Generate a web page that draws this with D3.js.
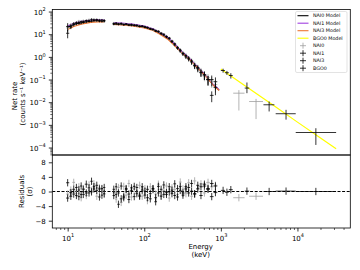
<!DOCTYPE html>
<html>
<head>
<meta charset="utf-8">
<script src="https://cdn.jsdelivr.net/npm/d3@7"></script>
<style>
body { margin: 0; background: #fff; }
svg { display: block; font-family: "DejaVu Sans", sans-serif; }
</style>
</head>
<body>
<svg id="chart" width="360" height="270"></svg>
<script>
// NaI energy bins (keV), shared by the three NaI detectors
const naiE = [10, 11, 12, 13, 14, 15, 16, 17.5, 19, 20.5, 22, 24, 26, 28, 30,
  40, 43, 46, 50, 54, 58, 63, 68, 74, 80, 87, 94, 102, 110, 120, 130, 141, 153, 166, 180,
  195, 212, 230, 250, 272, 295, 320, 350, 380, 415, 455, 500, 550, 610, 680, 760, 850];
// relative 1-sigma error of the NaI rates
const naiRelErr = [0.4, 0.2, 0.15, 0.14, 0.13, 0.12, 0.12, 0.12, 0.12, 0.12, 0.12, 0.12, 0.12, 0.12, 0.13,
  0.12, 0.1, 0.1, 0.1, 0.09, 0.09, 0.09, 0.09, 0.09, 0.09, 0.09, 0.09, 0.09, 0.09, 0.09, 0.09, 0.1, 0.1, 0.1, 0.11,
  0.12, 0.12, 0.13, 0.14, 0.15, 0.17, 0.18, 0.2, 0.22, 0.25, 0.28, 0.3, 0.35, 0.4, 0.45, 0.5, 0.55];

const nai0Rate = [19, 26, 30, 33, 38, 34, 40, 36, 44, 41, 46, 39, 43, 41, 36,
  31, 29, 30, 27, 29, 26, 28, 25, 26, 23, 24, 21, 22, 19, 18.5, 15.5, 15, 12.5, 11.5, 9,
  8.3, 6.2, 5.2, 3.5, 2.7, 1.8, 1.55, 1.05, 0.9, 0.58, 0.48, 0.3, 0.24, 0.14, 0.12, 0.085, 0.06];
const nai1Rate = [11, 23, 29, 32, 30, 36, 33, 40, 37, 45, 41, 44, 38, 42, 39,
  29, 31, 27, 30, 27, 28, 25, 27, 24, 25, 22, 23, 20, 20, 17, 16.5, 13.8, 13.5, 10.5, 10,
  7.6, 6.8, 4.7, 3.8, 2.4, 2.0, 1.35, 1.15, 0.8, 0.66, 0.42, 0.34, 0.2, 0.16, 0.1, 0.02, 0.045];
const nai3Rate = [22, 21, 26, 29, 33, 31, 36, 35, 39, 38, 42, 40, 41, 37, 40,
  28, 28, 28.5, 28, 26, 27.5, 26, 24.5, 25.5, 23.5, 22.5, 22, 21.5, 19, 17.5, 16, 14.2, 12.8, 11, 9.2,
  7.8, 6.4, 4.9, 3.4, 2.6, 1.85, 1.4, 1.0, 0.88, 0.6, 0.4, 0.3, 0.21, 0.16, 0.098, 0.1, 0.08];

const nai0Res = [-0.7, 0.4, 2.5, -0.6, 1.3, -1.7, 0.8, -1.1, 1.8, 0.3, 2.1, -1.3, 1.0, 0.6, -0.8,
  -0.4, -2.1, 1.1, -3.0, 1.4, -1.0, 2.2, -1.5, 0.7, -0.3, 1.7, -1.3, 0.8, -2.5, 1.3, 0.4, -0.7, 2.0, -1.1, 0.3,
  1.5, -1.8, 1.0, 0.6, -0.8, 2.6, 0.7, -0.6, 2.4, -1.3, 2.9, 0.8, 2.1, -0.4, 2.5, 1.3, 1.7];
const nai1Res = [-1.8, -0.3, 0.6, 1.1, -1.4, 1.5, -0.8, 2.0, -0.4, 2.8, 0.7, 1.7, -1.5, 0.8, -0.6,
  -1.1, 1.3, -3.5, 1.5, -1.7, 0.6, -2.2, 1.0, -1.4, 1.1, -1.3, 1.3, -1.0, 0.6, -2.0, 0.8, -1.7, 1.4, -1.3, 1.8,
  -0.8, 1.3, -0.6, 2.1, -1.5, 1.4, -1.0, 1.3, -0.4, 2.2, -0.7, 1.7, -1.1, 1.5, 0.6, -1.4, -0.3];
const nai3Res = [2.4, -1.3, -0.7, -1.1, 0.4, -0.8, 0.6, -0.4, 1.0, -0.1, 1.3, 0.3, 0.7, -1.0, 1.1,
  0.6, -0.8, -0.4, -2.0, -1.3, 0.8, -0.7, 0.3, 1.4, -0.6, -1.0, 0.4, 0.1, -1.7, -0.6, 0.7, -2.8, -0.4, 0.6, -0.8,
  -0.3, -0.1, 0.4, -1.1, 0.8, 0.3, -0.4, 0.7, 1.1, 0.1, -0.6, 0.7, 1.3, 2.0, 0.8, 2.2, 1.5];

// two wide NAI0 bins above 1 MeV
const nai0TailE = [1720, 2880];
const nai0TailLo = [1450, 2340];
const nai0TailHi = [2040, 3550];
const nai0TailRate = [0.025, 0.0107];
const nai0TailRateLo = [0.0043, 0.0018];
const nai0TailRateHi = [0.034, 0.014];
const nai0TailRes = [-1.7, -1.3];

// BGO0 bins
const bgoE = [1070, 1200, 1350, 2190, 4270, 7100, 17400];
const bgoLo = [1000, 1130, 1270, 2050, 3600, 5200, 9500];
const bgoHi = [1130, 1270, 1430, 2350, 5000, 9500, 32000];
const bgoRate = [0.25, 0.2, 0.15, 0.042, 0.0077, 0.0031, 0.00046];
const bgoRateLo = [0.2, 0.16, 0.11, 0.025, 0.0039, 0.0017, 0.00013];
const bgoRateHi = [0.3, 0.24, 0.19, 0.074, 0.0107, 0.0046, 0.00071];
const bgoRes = [0.3, -0.2, 0.5, 0.1, 0.0, 0.1, 0.0];

// folded models
const modelE1 = [10, 12, 15, 20, 25, 30];
const modelE2 = [40, 50, 70, 100, 130, 160, 200, 250, 300, 350, 400, 500, 600, 700, 800, 950];
const nai0Model1 = [20, 27, 33, 38, 40, 39];
const nai0Model2 = [30, 29, 26, 21, 16, 11, 7, 3.4, 1.8, 1.1, 0.74, 0.33, 0.175, 0.097, 0.057, 0.034];
const nai1Model1 = [23, 30, 37, 42, 44, 42];
const nai1Model2 = [32, 31, 28, 23, 17.5, 12, 7.5, 3.7, 1.9, 1.2, 0.78, 0.35, 0.18, 0.1, 0.06, 0.036];
const nai3Model1 = [16, 22, 28, 33, 35, 35];
const nai3Model2 = [27, 26, 23.5, 19, 14.5, 10, 6.2, 3.1, 1.65, 1.05, 0.7, 0.32, 0.17, 0.095, 0.055, 0.033];
const bgoModelE = [1000, 2000, 5000, 10000, 20000, 32000];
const bgoModel = [0.29, 0.057, 0.0068, 0.00132, 0.00026, 0.000088];

const legendItems = ["NAI0 Model", "NAI1 Model", "NAI3 Model", "BGO0 Model", "NAI0", "NAI1", "NAI3", "BGO0"];

const GRAY = "#a0a0a0", PURPLE = "#a040e0", ORANGE = "#ee7733", YELLOW = "#ffff00";

const svg = d3.select("#chart");
const L = 52.3, R = 350.3, T1 = 9.5, B1 = 155, B2 = 228;

const x = d3.scaleLog().domain([6.3, 49000]).range([L, R]);
const yTop = d3.scaleLog().domain([Math.pow(10, -4.33), Math.pow(10, 2.09)]).range([B1, T1]);
const yRes = d3.scaleLinear().domain([-10, 10]).range([B2, B1]);

svg.append("clipPath").attr("id", "clipTop")
  .append("rect").attr("x", L).attr("y", T1).attr("width", R - L).attr("height", B1 - T1);
svg.append("clipPath").attr("id", "clipRes")
  .append("rect").attr("x", L).attr("y", B1).attr("width", R - L).attr("height", B2 - B1);

// bin edges: geometric half-way to the neighbours, not across the 30-40 keV gap
function binEdges(E) {
  return E.map(function (e, i) {
    const rPrev = i > 0 ? e / E[i - 1] : Infinity;
    const rNext = i < E.length - 1 ? E[i + 1] / e : Infinity;
    const lo = rPrev < 1.25 ? rPrev : rNext;
    const hi = rNext < 1.25 ? rNext : rPrev;
    return [e / Math.sqrt(lo), e * Math.sqrt(hi)];
  });
}
const naiEdges = binEdges(naiE);

function naiPoints(rate, res) {
  return naiE.map(function (e, i) {
    return {
      e: e, lo: naiEdges[i][0], hi: naiEdges[i][1],
      r: rate[i], rlo: rate[i] * (1 - naiRelErr[i]), rhi: rate[i] * (1 + naiRelErr[i]),
      res: res[i]
    };
  });
}
function listPoints(E, lo, hi, r, rlo, rhi, res) {
  return E.map(function (e, i) {
    return { e: e, lo: lo[i], hi: hi[i], r: r[i], rlo: rlo[i], rhi: rhi[i], res: res[i] };
  });
}

const sets = [
  { pts: naiPoints(nai0Rate, nai0Res).concat(listPoints(nai0TailE, nai0TailLo, nai0TailHi, nai0TailRate, nai0TailRateLo, nai0TailRateHi, nai0TailRes)), color: GRAY },
  { pts: naiPoints(nai1Rate, nai1Res), color: "#000" },
  { pts: naiPoints(nai3Rate, nai3Res), color: "#000" },
  { pts: listPoints(bgoE, bgoLo, bgoHi, bgoRate, bgoRateLo, bgoRateHi, bgoRes), color: "#000" }
];

const gTop = svg.append("g").attr("clip-path", "url(#clipTop)");
const gRes = svg.append("g").attr("clip-path", "url(#clipRes)");

// model curves, under the data
const line = d3.line().x(d => x(d[0])).y(d => yTop(d[1]));
function pairs(E, V) { return E.map((e, i) => [e, V[i]]); }
const models = [
  { segs: [pairs(modelE1, nai0Model1), pairs(modelE2, nai0Model2)], color: "#000" },
  { segs: [pairs(modelE1, nai1Model1), pairs(modelE2, nai1Model2)], color: PURPLE },
  { segs: [pairs(modelE1, nai3Model1), pairs(modelE2, nai3Model2)], color: ORANGE },
  { segs: [pairs(bgoModelE, bgoModel)], color: YELLOW }
];
models.forEach(function (m) {
  m.segs.forEach(function (seg) {
    gTop.append("path").attr("d", line(seg)).attr("fill", "none")
      .attr("stroke", m.color).attr("stroke-width", 1.2);
  });
});

// zero line of the residuals
gRes.append("line")
  .attr("x1", L).attr("x2", R).attr("y1", yRes(0)).attr("y2", yRes(0))
  .attr("stroke", "#000").attr("stroke-width", 1).attr("stroke-dasharray", "3,1.6");

sets.forEach(function (s) {
  const g1 = gTop.append("g").attr("stroke", s.color).attr("stroke-width", 0.8);
  g1.selectAll("line.h").data(s.pts).enter().append("line").attr("class", "h")
    .attr("x1", d => x(d.lo)).attr("x2", d => x(d.hi))
    .attr("y1", d => yTop(d.r)).attr("y2", d => yTop(d.r));
  g1.selectAll("line.v").data(s.pts).enter().append("line").attr("class", "v")
    .attr("x1", d => x(d.e)).attr("x2", d => x(d.e))
    .attr("y1", d => yTop(d.rlo)).attr("y2", d => yTop(d.rhi));

  const g2 = gRes.append("g").attr("stroke", s.color).attr("stroke-width", 0.8);
  g2.selectAll("line.h").data(s.pts).enter().append("line").attr("class", "h")
    .attr("x1", d => x(d.lo)).attr("x2", d => x(d.hi))
    .attr("y1", d => yRes(d.res)).attr("y2", d => yRes(d.res));
  g2.selectAll("line.v").data(s.pts).enter().append("line").attr("class", "v")
    .attr("x1", d => x(d.e)).attr("x2", d => x(d.e))
    .attr("y1", d => yRes(d.res - 1)).attr("y2", d => yRes(d.res + 1));
});

// axes
function isMajor(v) { const l = Math.log10(v); return Math.abs(l - Math.round(l)) < 1e-6; }
function powLabel(t, e) {
  t.append("tspan").text("10");
  t.append("tspan").attr("dy", -3.2).attr("font-size", 5).text(e < 0 ? "\u2212" + (-e) : String(e));
}

const gx = svg.append("g").attr("transform", "translate(0," + B2 + ")")
  .call(d3.axisBottom(x).tickValues(x.ticks()).tickFormat(""))
  .attr("font-family", null).attr("font-size", null);
gx.select(".domain").remove();
gx.selectAll(".tick line").attr("y2", d => isMajor(d) ? 3.5 : 2).attr("stroke-width", d => isMajor(d) ? 0.8 : 0.6);
gx.selectAll(".tick").filter(isMajor).each(function (d) {
  const t = d3.select(this).append("text").attr("y", 12.6).attr("text-anchor", "middle")
    .attr("font-size", 7).attr("fill", "#000");
  powLabel(t, Math.round(Math.log10(d)));
});

const gy = svg.append("g").attr("transform", "translate(" + L + ",0)")
  .call(d3.axisLeft(yTop).tickValues(yTop.ticks().filter(v => v >= yTop.domain()[0])).tickFormat(""))
  .attr("font-family", null).attr("font-size", null);
gy.select(".domain").remove();
gy.selectAll(".tick line").attr("x2", d => isMajor(d) ? -3.5 : -2).attr("stroke-width", d => isMajor(d) ? 0.8 : 0.6);
gy.selectAll(".tick").filter(isMajor).each(function (d) {
  const t = d3.select(this).append("text").attr("x", -6.5).attr("y", 2.6).attr("text-anchor", "end")
    .attr("font-size", 7).attr("fill", "#000");
  powLabel(t, Math.round(Math.log10(d)));
});

const gr = svg.append("g").attr("transform", "translate(" + L + ",0)")
  .call(d3.axisLeft(yRes).tickValues([-8, -4, 0, 4, 8]).tickSize(3.5).tickPadding(3)
    .tickFormat(d => d < 0 ? "\u2212" + (-d) : String(d)))
  .attr("font-family", null).attr("font-size", 7);
gr.select(".domain").remove();
gr.selectAll(".tick line").attr("stroke-width", 0.8);
gr.selectAll(".tick text").attr("fill", "#000").attr("dy", "0.34em");

// frames
svg.append("rect").attr("x", L).attr("y", T1).attr("width", R - L).attr("height", B1 - T1)
  .attr("fill", "none").attr("stroke", "#000").attr("stroke-width", 0.8);
svg.append("rect").attr("x", L).attr("y", B1).attr("width", R - L).attr("height", B2 - B1)
  .attr("fill", "none").attr("stroke", "#000").attr("stroke-width", 0.8);

// axis titles
function vLabel(xp, yp, txt) {
  svg.append("text").attr("transform", "translate(" + xp + "," + yp + ") rotate(-90)")
    .attr("text-anchor", "middle").attr("font-size", 7).attr("fill", "#000").text(txt);
}
vLabel(16.8, 96, "Net rate");
vLabel(25, 94, "(counts s\u207B\u00B9 keV\u207B\u00B9)");
vLabel(24.2, 191.5, "Residuals");
vLabel(31.8, 191.5, "(\u03C3)");
svg.append("text").attr("x", 200.7).attr("y", 248.5).attr("text-anchor", "middle")
  .attr("font-size", 7).attr("fill", "#000").text("Energy");
svg.append("text").attr("x", 200.7).attr("y", 257).attr("text-anchor", "middle")
  .attr("font-size", 7).attr("fill", "#000").text("(keV)");

// legend
const lg = svg.append("g");
lg.append("rect").attr("x", 295.5).attr("y", 11.5).attr("width", 51.5).attr("height", 61)
  .attr("rx", 1.5).attr("fill", "#fff").attr("fill-opacity", 0.8)
  .attr("stroke", "#d0d0d0").attr("stroke-width", 0.6);
const legendColors = ["#000", PURPLE, ORANGE, YELLOW, GRAY, "#000", "#000", "#000"];
legendItems.forEach(function (name, i) {
  const yy = 15.7 + i * 7.5;
  if (i < 4) {
    lg.append("line").attr("x1", 297.5).attr("x2", 308.5).attr("y1", yy).attr("y2", yy)
      .attr("stroke", legendColors[i]).attr("stroke-width", 1.1);
  } else {
    lg.append("line").attr("x1", 300).attr("x2", 306).attr("y1", yy).attr("y2", yy)
      .attr("stroke", legendColors[i]).attr("stroke-width", 0.8);
    lg.append("line").attr("x1", 303).attr("x2", 303).attr("y1", yy - 3).attr("y2", yy + 3)
      .attr("stroke", legendColors[i]).attr("stroke-width", 0.8);
  }
  lg.append("text").attr("x", 313).attr("y", yy + 1.7).attr("font-size", 4.8).attr("fill", "#000").text(name);
});
</script>
</body>
</html>
